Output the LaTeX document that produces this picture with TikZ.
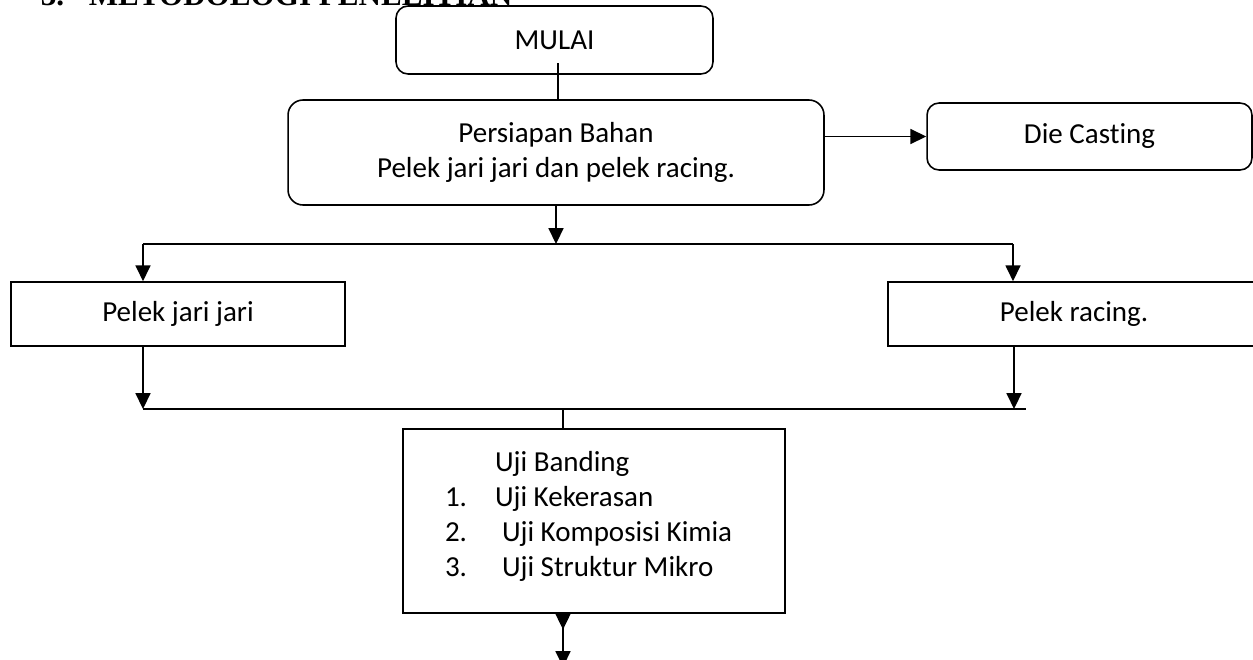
\documentclass[tikz,border=0pt]{standalone}
\usepackage{fontspec}
\setmainfont{Carlito}[Ligatures=NoCommon]
\newfontfamily\headfont{Liberation Serif}
\usetikzlibrary{arrows.meta}

\begin{document}
\begin{tikzpicture}[
	x=0.02cm, y=-0.02cm,
	line width=0.9pt,
	font=\fontsize{16.5pt}{19.9pt}\selectfont,
	>={Triangle[length=9pt,width=8.5pt]},
	roundbox/.style={ draw, rounded corners=0.24cm, inner sep=0pt, align=center },
	plainbox/.style={ draw, inner sep=0pt, align=center }
]
\clip (0,0) rectangle (1253,659);

\node at (40,6) (judul) [anchor=base west, inner sep=0pt, font=\headfont\bfseries\fontsize{17.7pt}{20pt}\selectfont] {\makebox[0.96cm][l]{3.}METODOLOGI PENELITIAN};

\node at (554.5,40) (mulai) [roundbox, minimum width=6.34cm, minimum height=1.36cm] {MULAI};
\node at (556,152.5) (bahan) [roundbox, rounded corners=0.3cm, minimum width=10.72cm, minimum height=2.1cm] {Persiapan Bahan\\Pelek jari jari dan pelek racing.};
\node at (1089.5,136.5) (casting) [roundbox, minimum width=6.5cm, minimum height=1.34cm] {Die Casting};
\coordinate (turun) at (558,63);
\draw (turun) -- (turun |- bahan.north);
\draw[->] (bahan.east |- casting.west) -- (casting.west);

% cabang ke dua jenis pelek
\coordinate (pisah) at (556,244);
\coordinate (kiri) at (143,244);
\coordinate (kanan) at (1013,244);
\draw[->] (bahan.south -| pisah) -- (pisah);
\draw (kiri) -- (kanan);

\node at (178,314) (jari) [plainbox, minimum width=6.68cm, minimum height=1.28cm] {Pelek jari jari};
\node at (1074,314) (racing) [plainbox, minimum width=7.44cm, minimum height=1.28cm] {Pelek racing.};
\draw[->] (kiri) -- (kiri |- jari.north);
\draw[->] (kanan) -- (kanan |- racing.north);

\coordinate (gabkiri) at (143,409);
\coordinate (gabkanan) at (1014,409);
\coordinate (ujung) at (1026,409);
\coordinate (gabung) at (563,409);
\draw[->] (jari.south -| gabkiri) -- (gabkiri);
\draw[->] (racing.south -| gabkanan) -- (gabkanan);
\draw (gabkiri) -- (ujung);

\node at (594,521) (uji) [plainbox, minimum width=7.64cm, minimum height=3.68cm, text width=5.96cm, inner xsep=0.84cm, align=flush left] {\hspace*{1cm}Uji Banding\\
\makebox[1cm][l]{1.}Uji Kekerasan\\
\makebox[1.14cm][l]{2.}Uji Komposisi Kimia\\
\makebox[1.14cm][l]{3.}Uji Struktur Mikro\par\vspace*{-0.4cm}\mbox{}};
\draw (gabung) -- (gabung |- uji.north);

\coordinate (akhir) at (563,667);
\draw[{Triangle[reversed,length=9pt,width=8.5pt]}->] (uji.south -| akhir) -- (akhir);

\end{tikzpicture}
\end{document}
